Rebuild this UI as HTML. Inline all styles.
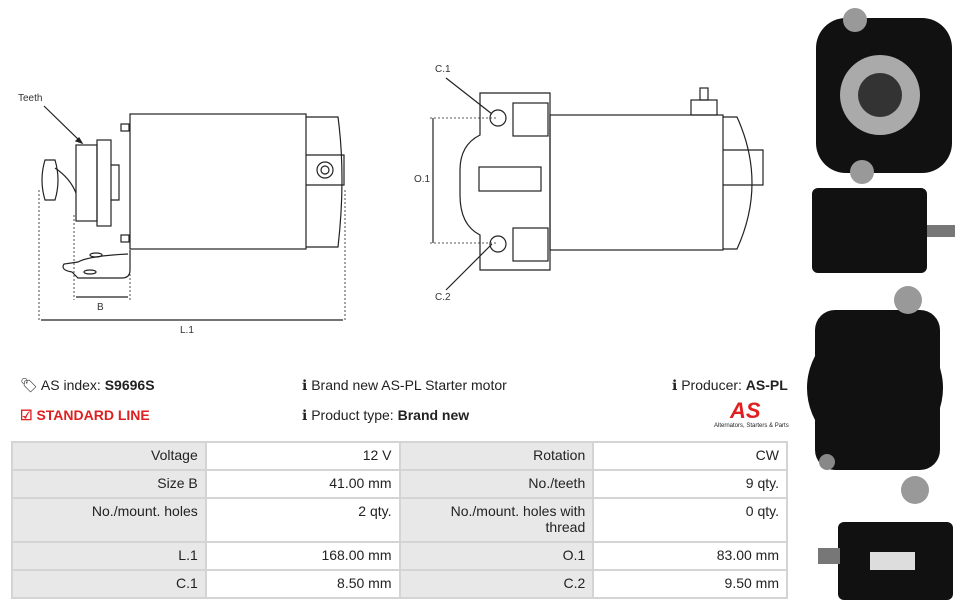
<!DOCTYPE html>
<html><head><meta charset="utf-8"><style>
body{margin:0;width:963px;height:608px;background:#fff;font-family:"Liberation Sans",sans-serif;position:relative;overflow:hidden;color:#222}
.t{position:absolute;font-size:14px}
table{position:absolute;left:11px;top:441px;width:777px;border-collapse:collapse;font-size:14px;table-layout:fixed}
td{border:2px solid #d4d4d4;padding:4px 7px 0 7px;text-align:right;vertical-align:top;line-height:16px;height:22px;box-sizing:border-box}
tr{height:28px}
td.l{background:#e8e8e8}
</style></head><body>
<svg width="963" height="608" style="position:absolute;left:0;top:0" fill="none" stroke="#222" stroke-width="1.2">
<text x="18" y="101" font-size="10" fill="#333" stroke="none" font-family="Liberation Sans">Teeth</text>
<line x1="44" y1="106" x2="82" y2="143"/><path d="M82 143l-6-2 3-3z" fill="#222"/>
<rect x="130" y="114" width="176" height="135"/>
<path d="M306 117h32q8 60 0 130h-32"/><path d="M306 155h38v30h-38"/>
<circle cx="325" cy="170" r="8"/><circle cx="325" cy="170" r="4"/>
<rect x="97" y="140" width="14" height="86"/><rect x="76" y="145" width="21" height="76"/>
<path d="M45 160q-6 20 0 40h10q6-20 0-40z"/><path d="M55 168q15 10 21 25"/>
<path d="M111 165h8v35h-8"/>
<rect x="121" y="124" width="8" height="7"/><rect x="121" y="235" width="8" height="7"/>
<path d="M130 250v20q0 8-8 8H78l-6-6q-12-2-8-8l14-2q10-6 50-8"/>
<ellipse cx="96" cy="255" rx="6" ry="2"/><ellipse cx="90" cy="272" rx="6" ry="2"/>
<g stroke-dasharray="2 2" stroke-width="0.8"><line x1="39" y1="190" x2="39" y2="322"/><line x1="74" y1="215" x2="74" y2="300"/><line x1="130" y1="270" x2="130" y2="300"/><line x1="345" y1="190" x2="345" y2="322"/></g>
<line x1="76" y1="297" x2="128" y2="297"/><line x1="41" y1="320" x2="343" y2="320"/>
<text x="97" y="310" font-size="10" fill="#333" stroke="none">B</text>
<text x="180" y="333" font-size="10" fill="#333" stroke="none">L.1</text>
<text x="435" y="72" font-size="10" fill="#333" stroke="none">C.1</text>
<text x="414" y="182" font-size="10" fill="#333" stroke="none">O.1</text>
<text x="435" y="300" font-size="10" fill="#333" stroke="none">C.2</text>
<line x1="446" y1="78" x2="492" y2="114"/><line x1="446" y1="290" x2="492" y2="244"/>
<path d="M480 93h70v177h-70v-35q-20-10-20-40v-25q0-25 20-35z"/>
<circle cx="498" cy="118" r="8"/><circle cx="498" cy="244" r="8"/>
<rect x="513" y="103" width="35" height="33"/><rect x="513" y="228" width="35" height="33"/>
<rect x="479" y="167" width="62" height="24"/>
<rect x="550" y="115" width="173" height="135"/>
<path d="M723 117h14q30 66 0 132h-14"/><path d="M723 150h40v35h-40"/>
<rect x="691" y="100" width="26" height="15"/><rect x="700" y="88" width="8" height="12"/>
<line x1="433" y1="118" x2="433" y2="243"/>
<g stroke-dasharray="2 2" stroke-width="0.8"><line x1="430" y1="118" x2="498" y2="118"/><line x1="430" y1="243" x2="498" y2="243"/></g>
<g stroke="none" fill="#111">
<rect x="816" y="18" width="136" height="155" rx="30"/>
<circle cx="880" cy="95" r="40" fill="#aaa"/><circle cx="880" cy="95" r="22" fill="#333"/>
<circle cx="855" cy="20" r="12" fill="#999"/><circle cx="862" cy="172" r="12" fill="#999"/>
<rect x="812" y="188" width="115" height="85" rx="6"/><rect x="927" y="225" width="28" height="12" fill="#777"/>
<circle cx="875" cy="388" r="68"/><rect x="815" y="310" width="125" height="160" rx="20"/>
<circle cx="908" cy="300" r="14" fill="#999"/><circle cx="915" cy="490" r="14" fill="#999"/><circle cx="827" cy="462" r="8" fill="#888"/>
<rect x="838" y="522" width="115" height="78" rx="6"/><rect x="818" y="548" width="22" height="16" fill="#777"/>
<rect x="870" y="552" width="45" height="18" fill="#ddd"/>
</g>
</svg>
<div class="t" style="left:20px;top:377px">&#x1F3F7;&#xFE0E; AS index: <b>S9696S</b></div>
<div class="t" style="left:20px;top:407px;color:#e02020;font-weight:bold">&#9745; STANDARD LINE</div>
<div class="t" style="left:302px;top:377px">&#x2139; Brand new AS-PL Starter motor</div>
<div class="t" style="left:302px;top:407px">&#x2139; Product type: <b>Brand new</b></div>
<div class="t" style="left:672px;top:377px">&#x2139; Producer: <b>AS-PL</b></div>
<div class="t" style="left:730px;top:398px;color:#e02020;font-weight:bold;font-style:italic;font-size:22px">AS</div>
<div class="t" style="left:714px;top:423px;font-size:6px">Alternators, Starters &amp; Parts</div>
<table>
<tr><td class="l">Voltage</td><td>12 V</td><td class="l">Rotation</td><td>CW</td></tr>
<tr><td class="l">Size B</td><td>41.00 mm</td><td class="l">No./teeth</td><td>9 qty.</td></tr>
<tr style="height:44px"><td class="l" style="height:44px">No./mount. holes</td><td>2 qty.</td><td class="l">No./mount. holes with thread</td><td>0 qty.</td></tr>
<tr><td class="l">L.1</td><td>168.00 mm</td><td class="l">O.1</td><td>83.00 mm</td></tr>
<tr><td class="l">C.1</td><td>8.50 mm</td><td class="l">C.2</td><td>9.50 mm</td></tr>
</table>
</body></html>
